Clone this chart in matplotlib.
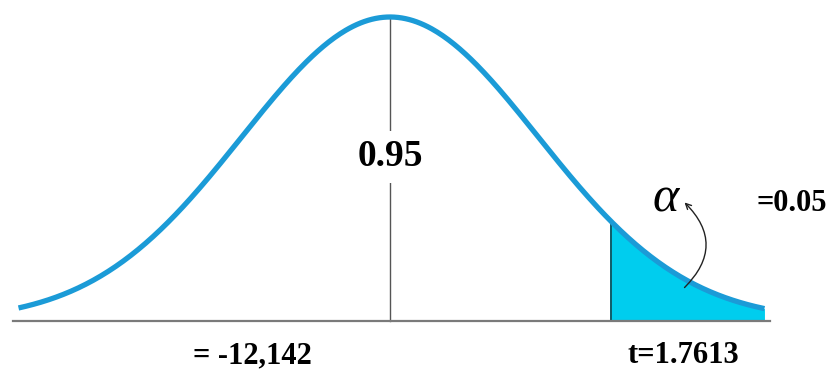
import numpy as np
import matplotlib
matplotlib.use("Agg")
import matplotlib.pyplot as plt

plt.rcParams["font.family"] = "serif"
plt.rcParams["font.serif"] = ["Liberation Serif", "DejaVu Serif"]

# curve in units of standard deviations, height scaled to 1 at the peak
x_start, x_end = -2.51, 2.53
t_cut = 1.49
axis_left, axis_right = -2.55, 2.57

label_mid = "0.95"
label_alpha = "=0.05"
label_left = "= -12,142"
label_t = "t=1.7613"

CURVE = "#1b9bd7"
FILL = "#00cdee"

x = np.linspace(x_start, x_end, 400)
y = np.exp(-x ** 2 / 2)

fig = plt.figure(figsize=(8.35, 3.78), dpi=100)
ax = fig.add_axes([0, 0, 1, 1])
ax.set_xlim(-390 / 148, 445 / 148)
ax.set_ylim(-57 / 304, 321 / 304)
ax.axis("off")

# shaded tail
xs = x[x >= t_cut]
ax.fill_between(xs, 0, np.exp(-xs ** 2 / 2), color=FILL, lw=0, zorder=1)
ax.plot([t_cut, t_cut], [0, np.exp(-t_cut ** 2 / 2)], color="#0d5a68", lw=1.4, zorder=2)

ax.plot([axis_left, axis_right], [0, 0], color="#7a7a7a", lw=1.6, zorder=2)
ax.plot([0, 0], [0, 1], color="#555555", lw=1.0, zorder=1)
ax.plot(x, y, color=CURVE, lw=3.8, solid_capstyle="butt", zorder=3)

ax.text(0, 0.54, label_mid, ha="center", va="center", fontsize=27, fontweight="bold",
        bbox=dict(facecolor="white", edgecolor="none", pad=6), zorder=4)
ax.text(2.95, 0.385, label_alpha, ha="right", va="center", fontsize=22, fontweight="bold")
ax.text(-0.93, -0.115, label_left, ha="center", va="center", fontsize=22, fontweight="bold")
ax.text(1.98, -0.115, label_t, ha="center", va="center", fontsize=22, fontweight="bold")

ax.text(1.86, 0.40, "α", ha="center", va="center", fontsize=36, style="italic")
ax.annotate("", xy=(1.99, 0.39), xytext=(1.99, 0.11),
            arrowprops=dict(arrowstyle="->", color="#222222", lw=1.0,
                            connectionstyle="arc3,rad=0.5", shrinkA=0, shrinkB=0))

fig.savefig("out.png", dpi=100)
